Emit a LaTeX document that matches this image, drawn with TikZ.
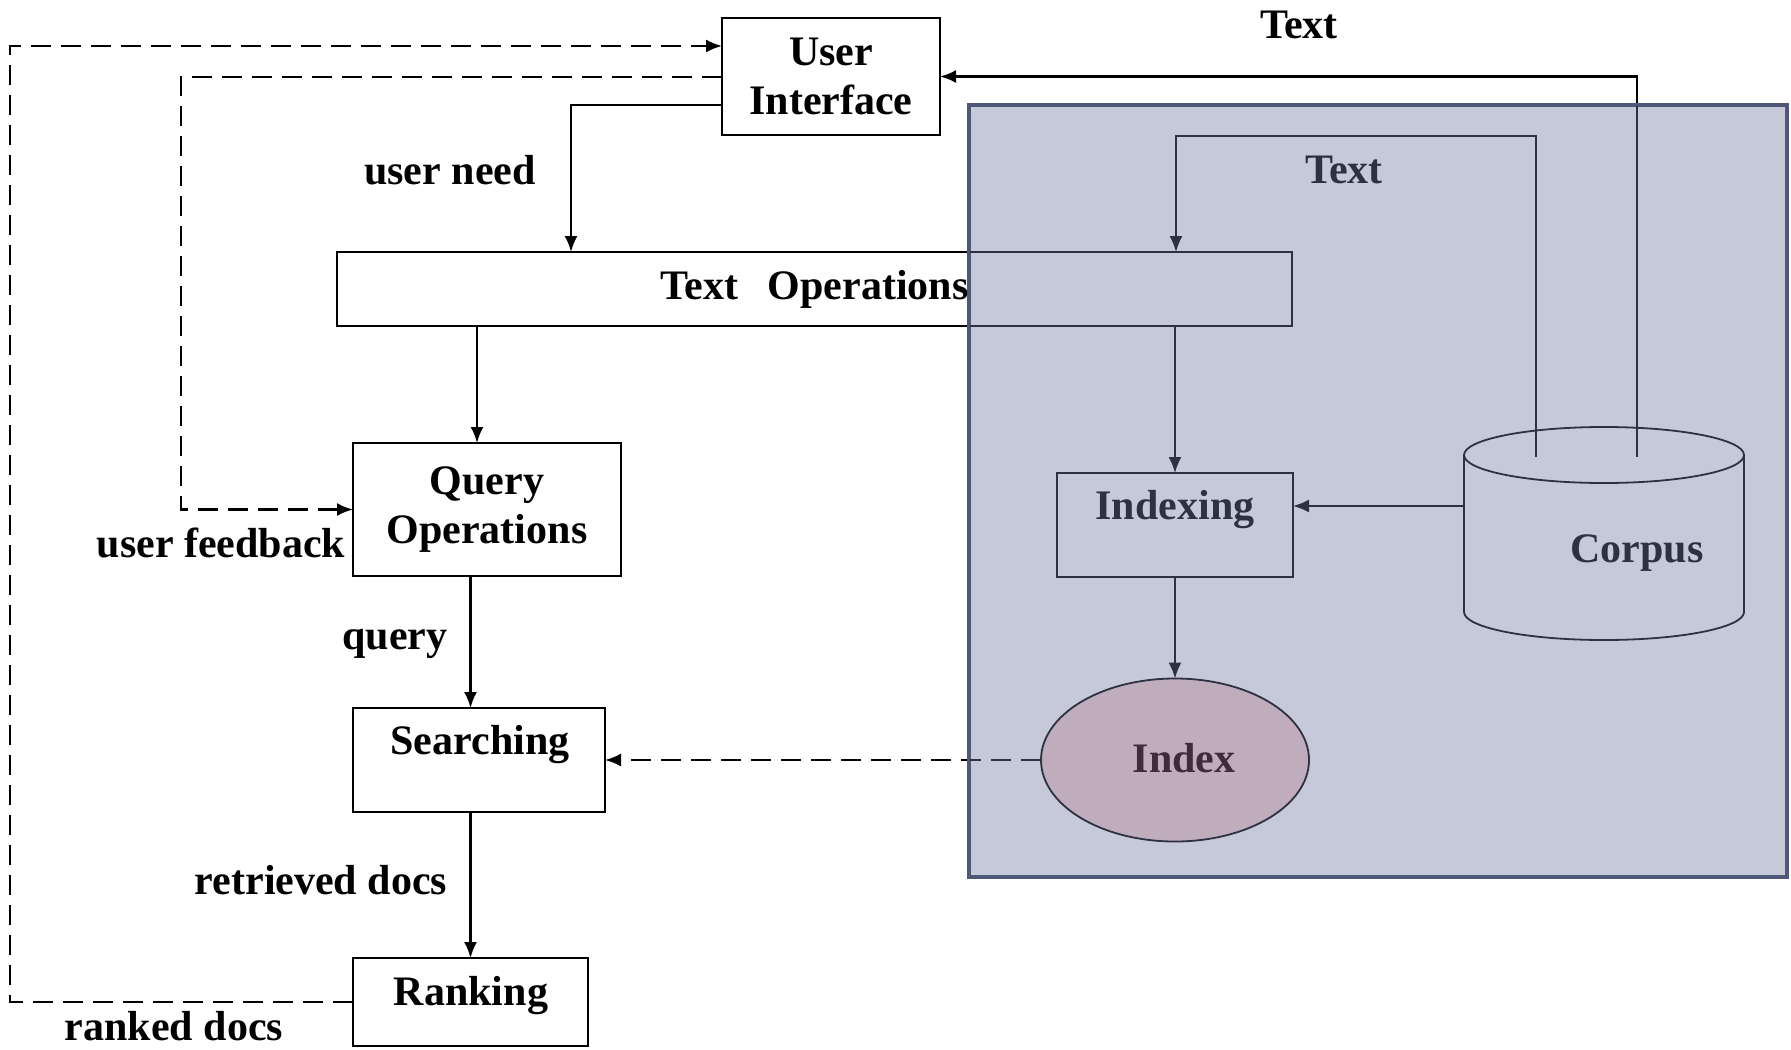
\documentclass[tikz,border=0pt]{standalone}
\usepackage{fontspec}
\setmainfont{Liberation Serif}
\usetikzlibrary{arrows.meta,calc,shapes.geometric}
\pgfdeclarelayer{bg}
\pgfdeclarelayer{panel}
\pgfsetlayers{bg,panel,main}
\definecolor{panelfill}{HTML}{C6C9DA}
\definecolor{panelborder}{HTML}{4F5878}
\definecolor{navy}{HTML}{2E3142}
\definecolor{indexfill}{HTML}{BFADBE}
\definecolor{indextext}{HTML}{3E2C3E}
\begin{document}
\begin{tikzpicture}[x=0.5pt,y=0.5pt,
  every node/.style={font=\fontsize{21}{25.5}\selectfont\bfseries, inner sep=0pt, outer sep=0pt},
  box/.style={draw=black, line width=1pt, anchor=north west, align=center},
  ibox/.style={draw=navy, line width=0.9pt, anchor=north west},
  lbl/.style={text=black},
  ilbl/.style={text=navy},
  arr/.style={draw=black, line width=1.1pt, -{Latex[length=8pt,width=6.5pt]}},
  iarr/.style={draw=navy, line width=0.9pt, -{Latex[length=8pt,width=6.5pt]}},
  dl/.style={dash pattern=on 10pt off 5pt}
]
\useasboundingbox (0,0) rectangle (1791,-1049);

% left column nodes
\node (ui) [box, minimum width=109pt, minimum height=58.5pt] at (722,-18) {User\\[-1pt]Interface};
\begin{pgfonlayer}{bg}
\node (textops) [box, minimum width=477.5pt, minimum height=37pt] at (337,-252) {Text\hspace{0.7em}Operations};
\end{pgfonlayer}
\node (qo) [box, minimum width=134pt, minimum height=66.5pt] at (353,-443) {Query\\[-1pt]Operations};
\node (search) [box, minimum width=126pt, minimum height=52pt] at (353,-708) {};
\node (searchtxt) [lbl] at (480,-745) {Searching};
\node (rank) [box, minimum width=117.5pt, minimum height=44pt] at (353,-958) {};
\node (ranktxt) [lbl] at (471,-996) {Ranking};

% labels
\node (lneed) [lbl] at (450,-170) {user need};
\node (lfeed) [lbl] at (221,-543) {user feedback};
\node (lquery) [lbl] at (395,-644) {query};
\node (lretr) [lbl] at (321,-880) {retrieved docs};
\node (lranked) [lbl] at (174,-1026) {ranked docs};
\node (ltext) [lbl] at (1299,-25) {Text};

% panel
\begin{pgfonlayer}{panel}
\draw[fill=panelfill, draw=panelborder, line width=2pt] (969,-105) rectangle (1787,-877);
\end{pgfonlayer}

% panel content
\node (indexing) [ibox, minimum width=118pt, minimum height=52pt] at (1057,-473) {};
\node (indexingtxt) [ilbl] at (1175,-510) {Indexing};
\node (index) [ellipse, draw=navy, line width=0.9pt, fill=indexfill, minimum width=134pt, minimum height=81.5pt] at (1175,-760) {};
\node (indextxt) [text=indextext] at (1184,-758) {Index};
\node (corpus) [minimum width=140pt, minimum height=106.5pt] at (1604,-533.5) {};
\draw[draw=navy, fill=panelfill, line width=0.9pt] (1464,-455) -- (1464,-612)
  arc[start angle=180, end angle=360, x radius=70pt, y radius=14pt] -- (1744,-455)
  arc[start angle=0, end angle=180, x radius=70pt, y radius=14pt] -- cycle;
\draw[draw=navy, line width=0.9pt] (1464,-455) arc[start angle=180, end angle=360, x radius=70pt, y radius=14pt];
\node (corpustxt) [ilbl] at (1637,-553) {Corpus};
\node (itext) [ilbl] at (1344,-170) {Text};

% coordinates
\coordinate (lp) at (10,-46);
\coordinate (fp) at (181,-77);
\coordinate (np) at (571,-105);
\coordinate (c1) at (477,0);
\coordinate (ct1) at (1536,-457);
\coordinate (ct2) at (1637,-457);
\coordinate (tl) at (1176,-136);
\coordinate (cw) at (1464,-506);

% left connectors
\draw[arr, dl] (rank.west) -| (lp) -- (ui.west |- lp);
\draw[arr, dl] (ui.west |- fp) -- (fp) |- (qo.west);
\draw[arr] (ui.west |- np) -| (textops.north -| np);
\draw[arr] (textops.south -| c1) -- (qo.north -| c1);
\draw[arr] (qo.south -| rank.north) -- (search.north -| rank.north);
\draw[arr] (search.south -| rank.north) -- (rank.north);

% connectors crossing the panel edge (black part under the panel)
\begin{pgfonlayer}{bg}
\draw[arr] (ct2) |- (ui.east);
\draw[arr, dl] (index.west) -- (search.east |- index.west);
\end{pgfonlayer}

% inside-panel redraws
\begin{scope}
\clip (970,-106) rectangle (1786,-876);
\draw[draw=navy, line width=0.9pt] (textops.north west) rectangle (textops.south east);
\draw[draw=navy, line width=0.9pt] (ct2) |- (ui.east);
\draw[draw=navy, line width=1.1pt, dl] (index.west) -- (search.east |- index.west);
\end{scope}

% inside connectors
\draw[iarr] (ct1) |- (tl) -- (textops.north -| tl);
\draw[iarr] (textops.south -| indexing.north) -- (indexing.north);
\draw[iarr] (cw) -- (cw -| indexing.east);
\draw[iarr] (indexing.south) -- (index.north);
\end{tikzpicture}
\end{document}
